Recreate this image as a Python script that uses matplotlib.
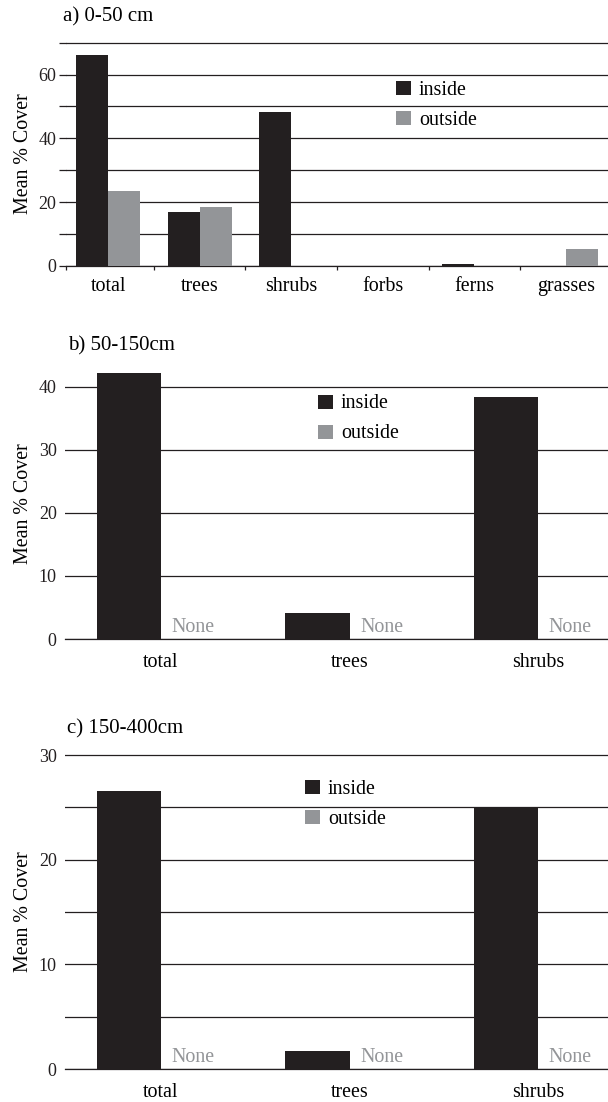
import matplotlib.pyplot as plt
import numpy as np
from matplotlib.patches import Patch
from matplotlib.transforms import blended_transform_factory

plt.rcParams["font.family"] = ["Liberation Serif", "DejaVu Serif"]

INSIDE_COLOR = "#231f20"
OUTSIDE_COLOR = "#939598"
LINE_COLOR = "#231f20"

# a) 0-50 cm
cats_a = ["total", "trees", "shrubs", "forbs", "ferns", "grasses"]
inside_a = [66.0, 16.8, 48.4, 0.0, 0.5, 0.0]
outside_a = [23.4, 18.6, 0.0, 0.0, 0.0, 5.3]

# b) 50-150cm and c) 150-400cm: no outside cover recorded
cats_bc = ["total", "trees", "shrubs"]
inside_b = [42.2, 4.1, 38.4]
outside_b = [None, None, None]
inside_c = [26.6, 1.7, 25.0]
outside_c = [None, None, None]

W, H = 608, 1102
fig = plt.figure(figsize=(W / 100, H / 100), dpi=100)


def px_axes(left, top, bottom, right=W):
    return fig.add_axes([left / W, 1 - bottom / H, (right - left) / W, (bottom - top) / H])


def draw_panel(ax, cats, inside, outside, width, title, title_xy, legend_xy):
    x = np.arange(len(cats))
    ax.bar(x - width / 2, inside, width, color=INSIDE_COLOR, zorder=3)
    out_vals = [0 if v is None else v for v in outside]
    ax.bar(x + width / 2, out_vals, width, color=OUTSIDE_COLOR, zorder=3)
    for xi, v in zip(x, outside):
        if v is None:
            ax.annotate("None", (xi + width / 2, 0), xytext=(0, 1.5), textcoords="offset points",
                        ha="center", va="bottom", fontsize=14.4, color=OUTSIDE_COLOR)

    ax.set_axisbelow(True)
    ax.grid(True, axis="y", which="both", color=LINE_COLOR, linewidth=0.9)
    for side in ("left", "top", "right"):
        ax.spines[side].set_visible(False)
    ax.spines["bottom"].set_color(LINE_COLOR)
    ax.spines["bottom"].set_linewidth(0.9)
    ax.tick_params(axis="y", which="both", labelsize=13, colors=LINE_COLOR, width=0.9)

    ax.set_ylabel("Mean % Cover", fontsize=14.4, va="center")
    ax.yaxis.set_label_coords(24 / W, 0.5, transform=blended_transform_factory(fig.transFigure, ax.transAxes))

    fig.text(title_xy[0] / W, 1 - title_xy[1] / H, title, fontsize=15, ha="left", va="center")

    handles = [Patch(facecolor=INSIDE_COLOR), Patch(facecolor=OUTSIDE_COLOR)]
    ax.legend(handles, ["inside", "outside"], loc="center left",
              bbox_to_anchor=(legend_xy[0] / W, 1 - legend_xy[1] / H), bbox_transform=fig.transFigure,
              frameon=False, borderpad=0, borderaxespad=0, handlelength=0.75, handleheight=0.7,
              handletextpad=0.4, labelspacing=0.55, fontsize=14.4)
    return x


# panel a
ax_a = px_axes(66, 42, 266)
xa = draw_panel(ax_a, cats_a, inside_a, outside_a, 0.35, "a) 0-50 cm", (63, 17), (396, 106))
ax_a.set_xlim(-0.46, 5.46)
ax_a.set_ylim(0, 70.2)
ax_a.set_yticks([0, 20, 40, 60])
ax_a.set_yticks([10, 30, 50, 70], minor=True)
ax_a.tick_params(axis="y", which="both", length=5, pad=2)
ax_a.set_xticks([-0.46] + list(xa[:-1] + 0.5))
ax_a.set_xticklabels([])
ax_a.set_xticks(xa, minor=True)
ax_a.set_xticklabels(cats_a, minor=True)
ax_a.tick_params(axis="x", which="major", length=3, width=0.9, color=LINE_COLOR)
ax_a.tick_params(axis="x", which="minor", length=0, pad=8, labelsize=14.4)

# panel b
ax_b = px_axes(65, 368, 639)
xb = draw_panel(ax_b, cats_bc, inside_b, outside_b, 0.34, "b) 50-150cm", (68, 346), (318, 419))
ax_b.set_xlim(-0.509, 2.371)
ax_b.set_ylim(0, 43)
ax_b.set_yticks([0, 10, 20, 30, 40])
ax_b.tick_params(axis="y", length=0, pad=6)
ax_b.set_xticks(xb)
ax_b.set_xticklabels(cats_bc)
ax_b.tick_params(axis="x", length=0, pad=10, labelsize=14.4)

# panel c
ax_c = px_axes(65, 754, 1069)
xc = draw_panel(ax_c, cats_bc, inside_c, outside_c, 0.34, "c) 150-400cm", (67, 729), (305, 804))
ax_c.set_xlim(-0.509, 2.371)
ax_c.set_ylim(0, 30.1)
ax_c.set_yticks([0, 10, 20, 30])
ax_c.set_yticks([5, 15, 25], minor=True)
ax_c.tick_params(axis="y", which="both", length=0, pad=6)
ax_c.set_xticks(xc)
ax_c.set_xticklabels(cats_bc)
ax_c.tick_params(axis="x", length=0, pad=10, labelsize=14.4)

fig.savefig("out.png", dpi=100)
